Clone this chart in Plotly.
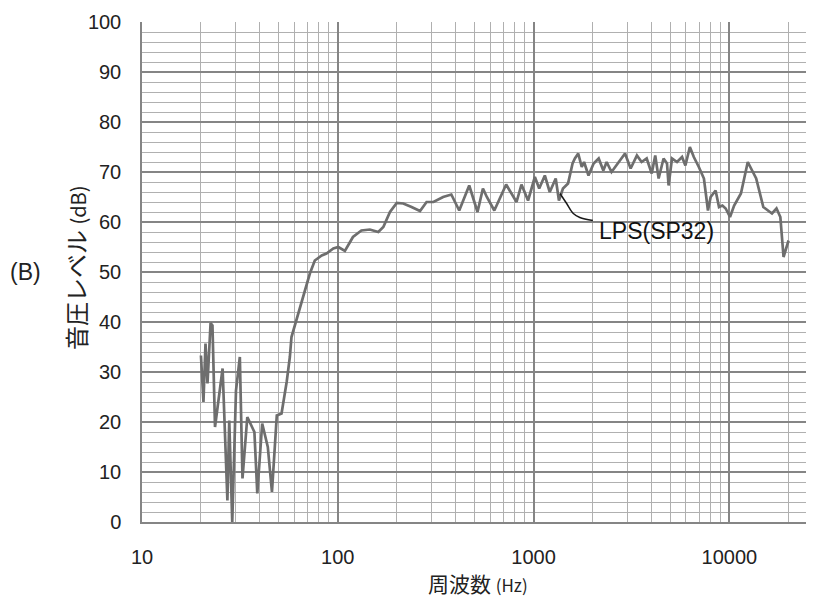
import numpy as np
import plotly.graph_objects as go

freq = [20, 20.6, 21.1, 21.6, 22.4, 22.9, 23.6, 25.8, 27.3, 27.9, 28.9, 30.2, 31.6, 32.6,
        34.5, 36.7, 37.5, 38.8, 41.1, 43.9, 46.1, 48.8, 51.6, 54.8, 56.9, 58, 61.5, 67,
        72, 76.3, 82.8, 87.5, 94.9, 100.6, 108.7, 119.5, 132, 145.8, 161, 170.8, 184.7,
        200, 216, 238, 263, 284, 308, 345, 380, 417, 469, 517, 551, 577, 630, 724, 764,
        818, 867, 937, 1015, 1068, 1141, 1209, 1297, 1347, 1412, 1499, 1581, 1625, 1690,
        1761, 1810, 1907, 2025, 2150, 2270, 2360, 2500, 2700, 2930, 3130, 3370, 3560,
        3780, 4010, 4180, 4350, 4610, 4800, 4890, 5090, 5400, 5730, 5960, 6280, 6580,
        6980, 7410, 7770, 8020, 8500, 8850, 9210, 9570, 10070, 10570, 11450, 12410,
        13180, 13700, 14900, 16500, 17400, 18200, 18900, 20050]
spl = [33.3, 24, 35.7, 27.7, 39.8, 39.3, 19, 30.7, 4.3, 20.3, 0, 26.3, 33, 8.7,
       21, 18.7, 18, 5.7, 19.7, 15, 6, 21.3, 21.7, 28, 33, 37, 40.5, 45.3,
       49.7, 52.3, 53.3, 53.7, 54.7, 55, 54.2, 57, 58.3, 58.5, 58, 59, 62,
       63.8, 63.7, 63, 62.2, 64, 64, 65, 65.5, 62.3, 67.3, 62, 66.7, 65, 62.3, 67.5, 66,
       64, 67.5, 64.3, 69, 66.7, 69.3, 66, 68.7, 64.3, 66.7, 67.7, 71.7, 72.7, 73.7,
       71, 72, 69.3, 71.7, 72.7, 70.3, 72, 70, 71.7, 73.7, 70.7, 73.3, 72,
       72.7, 69.7, 73.3, 68.7, 72.7, 71.7, 67.3, 72.7, 72, 73, 71.3, 75, 73,
       71, 68.7, 62.3, 65, 66.3, 63, 63.3, 62.7, 61, 63.3, 65.7, 72,
       70, 68.7, 63, 61.7, 62.7, 61, 53, 56.3]

x_ticks = [10, 100, 1000, 10000]
x_ticklabels = ["10", "100", "1000", "10000"]
y_ticks = list(range(0, 101, 10))

leader_f = [1364, 1475, 1595, 1722, 2008]
leader_db = [65.7, 63.7, 61.7, 60.9, 60.3]

label_text = "LPS(SP32)"
label_f = 2110
label_db = 58.3

LAT = "Liberation Sans Narrow, Liberation Sans, Arial, sans-serif"
CJK = "Noto Sans CJK JP, Noto Sans CJK SC, sans-serif"

fig = go.Figure()
fig.add_trace(go.Scatter(x=freq, y=spl, mode="lines",
                         line=dict(color="#6e6e6e", width=2.7),
                         showlegend=False, hoverinfo="skip"))
fig.add_trace(go.Scatter(x=leader_f, y=leader_db, mode="lines",
                         line=dict(color="#1a1a1a", width=1.5, shape="spline"),
                         showlegend=False, hoverinfo="skip"))

fig.add_annotation(x=np.log10(label_f), y=label_db, xref="x", yref="y",
                   text=label_text, showarrow=False, xanchor="left", yanchor="middle",
                   font=dict(family=LAT, size=23, color="#111111"))

fig.add_annotation(x=(478 - 142) / 672, y=-0.122, xref="paper", yref="paper",
                   text='周波数 <span style="font-size:17px">(Hz)</span>',
                   showarrow=False, xanchor="center", yanchor="middle",
                   font=dict(family=CJK, size=21, color="#222222"))
fig.add_annotation(x=(75 - 142) / 672, y=(522 - 268) / 500, xref="paper", yref="paper",
                   text='音圧レベル <span style="font-size:20px">(dB)</span>', textangle=-90,
                   showarrow=False, xanchor="center", yanchor="middle",
                   font=dict(family=CJK, size=24, color="#222222"))
fig.add_annotation(x=(25 - 142) / 672, y=(522 - 272) / 500, xref="paper", yref="paper",
                   text="(B)", showarrow=False, xanchor="center", yanchor="middle",
                   font=dict(family=LAT, size=23, color="#222222"))

fig.update_xaxes(type="log", range=[1, 4.432],
                 tickvals=x_ticks, ticktext=x_ticklabels,
                 showgrid=True, gridcolor="#858585", gridwidth=1.5,
                 minor=dict(dtick="D1", showgrid=True, gridcolor="#b0b0b0", gridwidth=1.2),
                 showline=True, linecolor="#858585", linewidth=1.5,
                 ticks="", ticklabelstandoff=16, zeroline=False,
                 tickfont=dict(family=LAT, size=20, color="#222222"))
fig.update_yaxes(range=[0, 100], tickvals=y_ticks,
                 showgrid=True, gridcolor="#858585", gridwidth=1.5,
                 minor=dict(dtick=2, showgrid=True, gridcolor="#b0b0b0", gridwidth=1.2),
                 showline=True, linecolor="#858585", linewidth=1.5,
                 ticks="", ticklabelstandoff=15, zeroline=False,
                 tickfont=dict(family=LAT, size=20, color="#222222"))

# page body adds an 8px offset, so the figure is 8px smaller and margins shifted
fig.update_layout(width=806, height=593,
                  margin=dict(l=134, r=0, t=14, b=79, autoexpand=False),
                  paper_bgcolor="white", plot_bgcolor="white")

fig.write_html("out.html")
